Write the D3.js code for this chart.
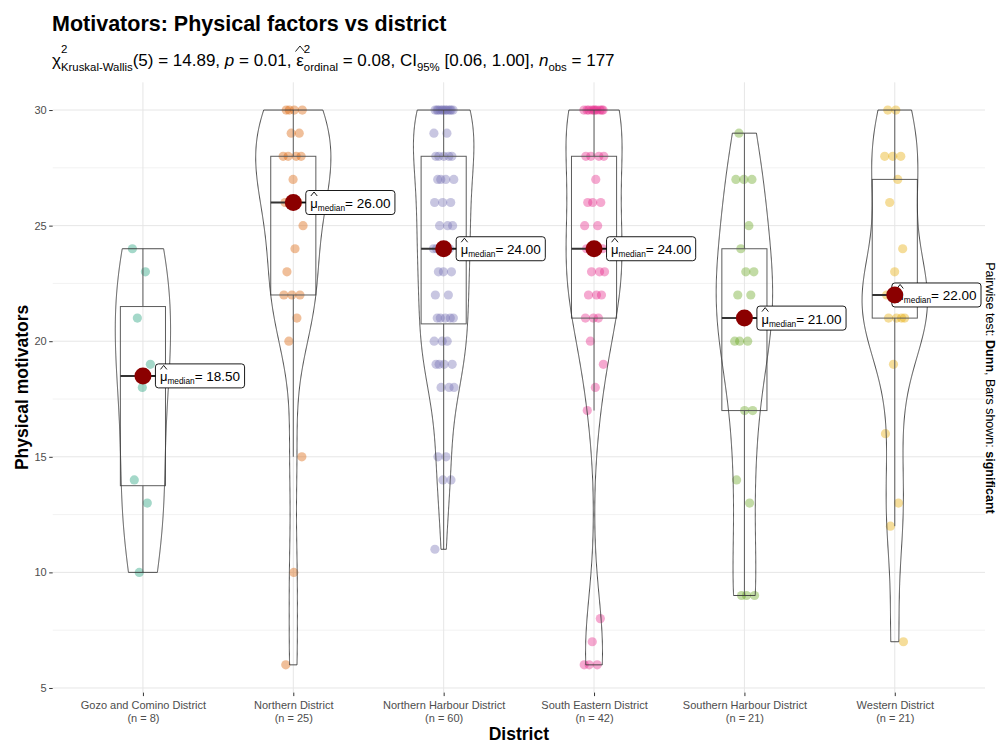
<!DOCTYPE html>
<html>
<head>
<meta charset="utf-8">
<script src="https://cdn.jsdelivr.net/npm/d3@7"></script>
<style>
  body { margin: 0; background: #fff; }
  svg { display: block; }
  text { font-family: "Liberation Sans", Arial, sans-serif; white-space: pre; }
</style>
</head>
<body>
<svg id="chart" width="997" height="744"></svg>
<script>
// ---- data ----
const districts = [
  "Gozo and Comino District",
  "Northern District",
  "Northern Harbour District",
  "South Eastern District",
  "Southern Harbour District",
  "Western District"
];
const groupSizes = [8, 25, 60, 42, 21, 21];
const medians = [18.5, 26, 24, 24, 21, 22];

const gozoScores = [24, 23, 21, 19, 18, 14, 13, 10];
const northernScores = [30, 30, 30, 30, 29, 29, 28, 28, 28, 28, 27, 26, 26, 26, 25, 24, 23, 22, 22, 22, 21, 20, 15, 10, 6];
const northernHarbourScores = [
  30, 30, 30, 30, 30, 30, 30, 30, 30, 30, 30, 30, 29, 29,
  28, 28, 28, 28, 28, 27, 27, 27, 27, 26, 26, 26, 25, 25, 25,
  24, 24, 24, 24, 24, 24, 23, 23, 23, 22, 22,
  21, 21, 21, 21, 21, 20, 20, 20, 19, 19, 19, 19, 18, 18, 18,
  15, 15, 14, 14, 11
];
const southEasternScores = [
  30, 30, 30, 30, 30, 30, 30, 30, 30, 30, 28, 28, 28, 28, 27,
  26, 26, 26, 25, 25, 24, 24, 24, 24, 23, 23, 23, 22, 22, 22,
  21, 21, 21, 20, 19, 18, 17, 8, 7, 6, 6, 6
];
const southernHarbourScores = [29, 27, 27, 27, 25, 24, 23, 23, 22, 22, 21, 20, 20, 20, 17, 17, 14, 13, 9, 9, 9];
const westernScores = [30, 30, 28, 28, 28, 27, 26, 24, 23, 22, 22, 22, 21, 21, 21, 21, 19, 16, 13, 12, 7];

const groupScores = [gozoScores, northernScores, northernHarbourScores, southEasternScores, southernHarbourScores, westernScores];
const yTicks = [5, 10, 15, 20, 25, 30];
const yMinorTicks = [7.5, 12.5, 17.5, 22.5, 27.5];
const palette = ["#1B9E77", "#D95F02", "#7570B3", "#E7298A", "#66A61E", "#E6AB02"];

// ---- layout ----
const svg = d3.select("#chart");
const panel = { left: 52.7, right: 985, top: 82.3, bottom: 692.6 };

const x = d3.scalePoint().domain(districts).range([panel.left, panel.right]).padding(0.6);
const y = d3.scaleLinear().domain([4.8, 31.2]).range([panel.bottom, panel.top]);
const step = x.step();
const color = d3.scaleOrdinal().domain(districts).range(palette);

// ---- helpers ----
function quantile7(sorted, p) { return d3.quantileSorted(sorted, p); }

function bwNrd0(values) {
  const s = values.slice().sort(d3.ascending);
  const sd = d3.deviation(s);
  const iqr = quantile7(s, 0.75) - quantile7(s, 0.25);
  const lo = Math.min(sd, iqr / 1.34) || sd || 1;
  return 0.9 * lo * Math.pow(s.length, -0.2);
}

function kde(values, bw, at) {
  const n = values.length;
  const k = 1 / (n * bw * Math.sqrt(2 * Math.PI));
  return at.map(v => {
    let sum = 0;
    for (const xi of values) { const u = (v - xi) / bw; sum += Math.exp(-0.5 * u * u); }
    return { v, d: sum * k };
  });
}

// rich text laid out piece by piece
function richText(g, x0, y0, parts, base) {
  let cx = x0;
  parts.forEach(p => {
    if (p.stack) {
      let w = 0;
      p.stack.forEach(s => {
        const t = g.append("text").attr("x", cx).attr("y", y0 + (s.dy || 0))
          .attr("font-size", s.size).attr("fill", base.fill).text(s.text);
        if (s.italic) t.attr("font-style", "italic");
        w = Math.max(w, t.node().getComputedTextLength());
      });
      cx += w;
    } else {
      const t = g.append("text").attr("x", cx).attr("y", y0 + (p.dy || 0))
        .attr("font-size", p.size).attr("fill", base.fill).text(p.text);
      if (p.italic) t.attr("font-style", "italic");
      const w = t.node().getComputedTextLength();
      if (p.hat) {
        const hx = cx + w / 2 + (p.hat.dx || 0), top = y0 + p.hat.top;
        g.append("path")
          .attr("d", `M${hx - p.hat.w},${top + p.hat.h}L${hx},${top}L${hx + p.hat.w},${top + p.hat.h}`)
          .attr("fill", "none").attr("stroke", base.fill).attr("stroke-width", 0.9);
      }
      cx += w;
    }
  });
  return cx;
}

// ---- grid ----
const grid = svg.append("g");
grid.selectAll("line.minor").data(yMinorTicks).join("line")
  .attr("x1", panel.left).attr("x2", panel.right)
  .attr("y1", d => y(d)).attr("y2", d => y(d))
  .attr("stroke", "#F2F2F2").attr("stroke-width", 1);
grid.selectAll("line.major").data(yTicks).join("line")
  .attr("x1", panel.left).attr("x2", panel.right)
  .attr("y1", d => y(d)).attr("y2", d => y(d))
  .attr("stroke", "#E6E6E6").attr("stroke-width", 1);
grid.selectAll("line.vert").data(districts).join("line")
  .attr("x1", d => x(d)).attr("x2", d => x(d))
  .attr("y1", panel.top).attr("y2", panel.bottom)
  .attr("stroke", "#E6E6E6").attr("stroke-width", 1);

// ---- axes ----
const yAxis = svg.append("g").attr("transform", `translate(${panel.left},0)`)
  .call(d3.axisLeft(y).tickValues(yTicks).tickSize(3.5).tickPadding(2.5));
yAxis.select(".domain").remove();
yAxis.selectAll(".tick line").attr("stroke", "#333");
yAxis.selectAll(".tick text").attr("fill", "#4D4D4D").attr("font-size", 11)
  .attr("font-family", "Liberation Sans, Arial, sans-serif");

const xAxis = svg.append("g").attr("transform", `translate(0,${panel.bottom})`)
  .call(d3.axisBottom(x).tickSize(3.5).tickPadding(5.5));
xAxis.select(".domain").remove();
xAxis.selectAll(".tick line").attr("stroke", "#333");
xAxis.selectAll(".tick text").attr("fill", "#4D4D4D").attr("font-size", 11)
  .attr("font-family", "Liberation Sans, Arial, sans-serif")
  .each(function (d, i) {
    const t = d3.select(this).text(null);
    t.append("tspan").attr("x", 0).attr("dy", "0.71em").text(d);
    t.append("tspan").attr("x", 0).attr("dy", "1.1em").text(`(n = ${groupSizes[i]})`);
  });

// ---- points ----
const jitterPx = 0.07 * step;
districts.forEach((name, gi) => {
  const cx = x(name);
  svg.append("g").selectAll("circle").data(groupScores[gi]).join("circle")
    .attr("cx", (d, i) => cx + ((((i * 0.618034 + 0.31 * gi) % 1) - 0.5) * 2 * jitterPx))
    .attr("cy", d => y(d))
    .attr("r", 4.6)
    .attr("fill", color(name))
    .attr("fill-opacity", 0.4);
});

// ---- boxplots ----
const boxW = 0.3 * step;
districts.forEach((name, gi) => {
  const s = groupScores[gi].slice().sort(d3.ascending);
  const q1 = quantile7(s, 0.25), q3 = quantile7(s, 0.75), med = quantile7(s, 0.5);
  const iqr = q3 - q1;
  const lo = d3.min(s.filter(v => v >= q1 - 1.5 * iqr));
  const hi = d3.max(s.filter(v => v <= q3 + 1.5 * iqr));
  const cx = x(name);
  const g = svg.append("g").attr("stroke", "#5C5C5C").attr("stroke-width", 1).attr("fill", "none");
  g.append("line").attr("x1", cx).attr("x2", cx).attr("y1", y(q3)).attr("y2", y(hi));
  g.append("line").attr("x1", cx).attr("x2", cx).attr("y1", y(q1)).attr("y2", y(lo));
  g.append("rect").attr("x", cx - boxW / 2).attr("width", boxW)
    .attr("y", y(q3)).attr("height", y(q1) - y(q3));
  g.append("line").attr("x1", cx - boxW / 2).attr("x2", cx + boxW / 2)
    .attr("y1", y(med)).attr("y2", y(med)).attr("stroke", "#333").attr("stroke-width", 2);
});

// ---- violins (equal area, trimmed) ----
const densities = groupScores.map(vals => {
  const bw = bwNrd0(vals);
  const lo = d3.min(vals), hi = d3.max(vals);
  const at = d3.range(512).map(i => lo + (hi - lo) * i / 511);
  return kde(vals, bw, at);
});
const maxDensity = d3.max(densities, ds => d3.max(ds, p => p.d));
const halfWidth = d3.scaleLinear().domain([0, maxDensity]).range([0, 0.25 * step]);

densities.forEach((ds, gi) => {
  const cx = x(districts[gi]);
  const area = d3.area()
    .y(p => y(p.v))
    .x0(p => cx - halfWidth(p.d))
    .x1(p => cx + halfWidth(p.d));
  svg.append("path").datum(ds).attr("d", area)
    .attr("fill", "none").attr("stroke", "#3A3A3A").attr("stroke-width", 0.9);
});

// ---- median markers and labels ----
const fmt = d3.format(".2f");
const labelLayer = svg.append("g");
districts.forEach((name, gi) => {
  const cx = x(name), cy = y(medians[gi]);
  svg.append("circle").attr("cx", cx).attr("cy", cy).attr("r", 8.5).attr("fill", "#8B0000");

  const g = labelLayer.append("g");
  const txt = g.append("g");
  const end = richText(txt, 0, 0, [
    { text: "\u03BC", size: 13, hat: { top: -16, h: 4, w: 3.2 } },
    { text: "median", size: 8.3, dy: 3 },
    { text: "= " + fmt(medians[gi]), size: 13.5 }
  ], { fill: "#000" });
  const padL = 4.5, padR = 4.5, h = 24;
  const w = end + padL + padR;
  let left = cx + 12.5;
  if (left + w > panel.right - 4) left = panel.right - 4 - w;
  if (left > cx + 8.5) {
    g.append("line").attr("x1", cx).attr("x2", left).attr("y1", cy).attr("y2", cy)
      .attr("stroke", "#000").attr("stroke-width", 0.8);
  }
  g.insert("rect", ":first-child").attr("x", left).attr("y", cy - h / 2)
    .attr("width", w).attr("height", h).attr("rx", 3)
    .attr("fill", "#fff").attr("stroke", "#000").attr("stroke-width", 0.9);
  txt.attr("transform", `translate(${left + padL},${cy + 5.5})`);
});

// ---- titles ----
svg.append("text").attr("x", 52).attr("y", 31)
  .attr("font-size", 21.5).attr("font-weight", "bold").attr("fill", "#000")
  .text("Motivators: Physical factors vs district");

const sub = svg.append("g");
richText(sub, 52, 66, [
  { text: "\u03C7", size: 17 },
  { stack: [{ text: "2", size: 11.5, dy: -13 }, { text: "Kruskal-Wallis", size: 11.4, dy: 5 }] },
  { text: "(5) = 14.89, ", size: 17 },
  { text: "p", size: 17, italic: true },
  { text: " = 0.01, ", size: 17 },
  { text: "\u03B5", size: 17, hat: { top: -20, h: 5.5, w: 4.5 } },
  { stack: [{ text: "2", size: 11.5, dy: -13 }, { text: "ordinal", size: 11.4, dy: 5 }] },
  { text: " = 0.08, CI", size: 17 },
  { text: "95%", size: 11.4, dy: 5 },
  { text: " [0.06, 1.00], ", size: 17 },
  { text: "n", size: 17, italic: true },
  { text: "obs", size: 11.4, dy: 5 },
  { text: " = 177", size: 17 }
], { fill: "#000" });

svg.append("text")
  .attr("transform", `translate(28,${(panel.top + panel.bottom) / 2}) rotate(-90)`)
  .attr("text-anchor", "middle").attr("font-size", 17.5).attr("font-weight", "bold")
  .text("Physical motivators");

svg.append("text").attr("x", (panel.left + panel.right) / 2).attr("y", 740)
  .attr("text-anchor", "middle").attr("font-size", 17.5).attr("font-weight", "bold")
  .text("District");

// pairwise comparison note on the right edge
const note = svg.append("text")
  .attr("transform", `translate(985.5,388) rotate(90)`)
  .attr("text-anchor", "middle").attr("font-size", 12.5).attr("fill", "#000");
note.append("tspan").text("Pairwise test: ");
note.append("tspan").attr("font-weight", "bold").text("Dunn");
note.append("tspan").text(", Bars shown: ");
note.append("tspan").attr("font-weight", "bold").text("significant");
</script>
</body>
</html>
